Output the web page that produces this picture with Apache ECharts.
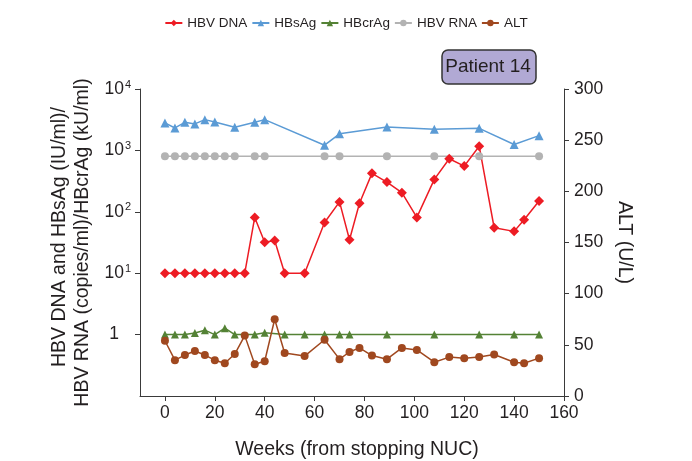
<!DOCTYPE html>
<html>
<head>
<meta charset="utf-8">
<script src="https://cdn.jsdelivr.net/npm/echarts@6/dist/echarts.min.js"></script>
<style>html,body{margin:0;padding:0;background:#fff}#c{width:692px;height:461px}</style>
</head>
<body>
<div id="c"></div>
<script>
const dnaWeeks = [0,4,8,12,16,20,24,28,32,36,40,44,48,56,64,70,74,78,83,89,95,101,108,114,120,126,132,140,144,150];
const dnaValues = [10,10,10,10,10,10,10,10,10,81,32,34,10,10,67,145,35,138,423,305,205,81,337,730,555,1170,55,48,74,150];

const hbsWeeks = [0,4,8,12,16,20,28,36,40,64,70,89,108,126,140,150];
const hbsValues = [2800,2320,2870,2700,3170,2900,2380,2870,3170,1215,1860,2410,2210,2290,1250,1740];

const crWeeks = [0,4,8,12,16,20,24,28,36,40,48,56,64,70,74,89,108,126,140,150];
const crValues = [1,1,1,1.065,1.18,1,1.27,1,1,1.07,1,1,1,1,1,1,1,1,1,1];

const rnaWeeks = [0,4,8,12,16,20,24,28,36,40,64,70,89,108,126,150];
const rnaValues = [800,800,800,800,800,800,800,800,800,800,800,800,800,800,800,800];

const altWeeks = [0,4,8,12,16,20,24,28,32,36,40,44,48,56,64,70,74,78,83,89,95,101,108,114,120,126,132,140,144,150];
const altValues = [54,35,40,44,40,35,32,41,59,31,34,75,42,39,55,36,43,47,39.5,36,47,45,33,38,37,38,40.5,33,32,37];

const xTicks = [0,20,40,60,80,100,120,140,160];
const yLogTicks = [1,10,100,1000,10000];

const seriesNames = ['HBV DNA','HBsAg','HBcrAg','HBV RNA','ALT'];
const seriesColors = ['#ed1c24','#5b9bd5','#548235','#b3b3b3','#a0481f'];

const FONT = 'Liberation Sans, Arial, sans-serif';
const TXT = '#231f20';
const AX = '#3a3a3a';

function pairs(w, v){ return w.map((x,i)=>[x, v[i]]); }

const chart = echarts.init(document.getElementById('c'), null, {renderer:'canvas'});

function mk(name, idx, w, v, symbol, size, yIdx){
  return {
    name: name, type: 'line', yAxisIndex: yIdx,
    data: pairs(w, v),
    symbol: symbol, symbolSize: size, showAllSymbol: true,
    lineStyle: {color: seriesColors[idx], width: 1.5},
    itemStyle: {color: seriesColors[idx]},
    emphasis: {disabled: true},
    animation: false
  };
}

chart.setOption({
  animation: false,
  textStyle: {fontFamily: FONT, color: TXT},
  legend: {
    top: 11, left: 'center',
    itemWidth: 17, itemHeight: 8, itemGap: 4,
    textStyle: {fontSize: 13.5, color: TXT, fontFamily: FONT},
    data: seriesNames
  },
  grid: {left: 140, right: 128, top: 89, bottom: 65, containLabel: false},
  xAxis: {
    type: 'value', min: -10, max: 160,
    axisLine: {show: true, onZero: false, lineStyle: {color: AX, width: 1}},
    axisTick: {show: true, length: 5, lineStyle: {color: AX}, customValues: xTicks},
    axisLabel: {fontSize: 17.5, color: TXT, margin: 8, customValues: xTicks},
    splitLine: {show: false}
  },
  yAxis: [
    {
      type: 'log', logBase: 10, min: 0.1, max: 10000,
      axisLine: {show: true, onZero: false, lineStyle: {color: AX, width: 1}},
      axisTick: {show: true, length: 5, lineStyle: {color: AX}, customValues: yLogTicks},
      splitLine: {show: false},
      axisLabel: {
        margin: 9, color: TXT, customValues: yLogTicks,
        formatter: function(v){
          if (v < 0.5) return '';
          if (Math.abs(v-1) < 1e-6) return '{b|1}{p|}';
          const e = Math.round(Math.log10(v));
          return '{b|10}{s|' + e + '}';
        },
        rich: {
          b: {fontSize: 17.5, fontFamily: FONT, color: TXT},
          s: {fontSize: 11, fontFamily: FONT, color: TXT, padding: [0,0,9,1]},
          p: {width: 12}
        }
      }
    },
    {
      type: 'value', min: 0, max: 300, interval: 50, position: 'right',
      axisLine: {show: true, onZero: false, lineStyle: {color: AX, width: 1}},
      axisTick: {show: true, length: 5, lineStyle: {color: AX}},
      splitLine: {show: false},
      axisLabel: {fontSize: 17.5, color: TXT, margin: 10},
      name: 'ALT (U/L)', nameLocation: 'middle', nameRotate: -90, nameGap: 48,
      nameTextStyle: {fontSize: 19.5, color: TXT, fontFamily: FONT}
    }
  ],
  graphic: [
    {type: 'text', x: 60, y: 237, rotation: Math.PI/2,
     style: {text: 'HBV DNA and HBsAg (IU/ml)/', fontSize: 19.5, fontFamily: FONT, fill: TXT, align: 'center', verticalAlign: 'middle'}},
    {type: 'text', x: 83, y: 242.5, rotation: Math.PI/2,
     style: {text: 'HBV RNA (copies/ml)/HBcrAg (kU/ml)', fontSize: 19.5, fontFamily: FONT, fill: TXT, align: 'center', verticalAlign: 'middle'}},
    {type: 'text', x: 357, y: 450,
     style: {text: 'Weeks (from stopping NUC)', fontSize: 19.5, fontFamily: FONT, fill: TXT, align: 'center', verticalAlign: 'middle'}},
    {type: 'rect', shape: {x: 442, y: 50, width: 94, height: 34, r: 6},
     style: {fill: '#b1a9d4', stroke: '#333333', lineWidth: 1.5}},
    {type: 'text', x: 488, y: 67,
     style: {text: 'Patient 14', fontSize: 19, fontFamily: FONT, fill: TXT, align: 'center', verticalAlign: 'middle'}}
  ],
  series: [
    mk('HBcrAg', 2, crWeeks, crValues, 'triangle', 8, 0),
    mk('HBV RNA', 3, rnaWeeks, rnaValues, 'circle', 8, 0),
    mk('HBsAg', 1, hbsWeeks, hbsValues, 'triangle', 9, 0),
    mk('ALT', 4, altWeeks, altValues, 'circle', 8, 1),
    mk('HBV DNA', 0, dnaWeeks, dnaValues, 'diamond', 10, 0)
  ]
});
</script>
</body>
</html>
